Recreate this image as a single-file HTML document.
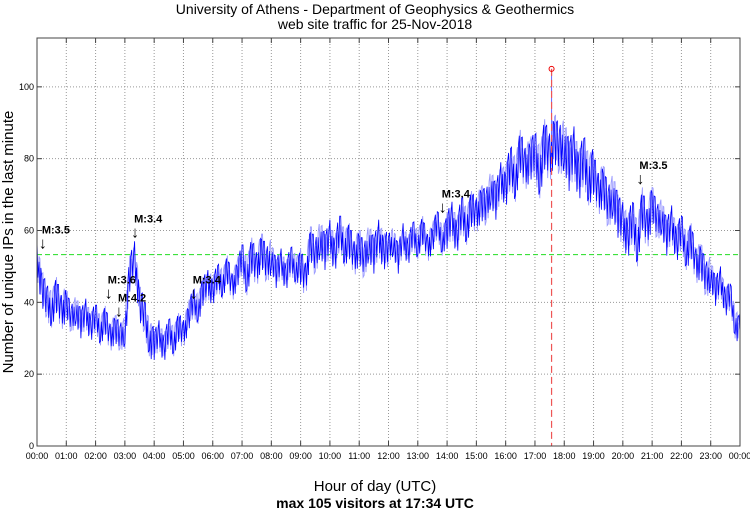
<!DOCTYPE html>
<html><head><meta charset="utf-8"><style>
html,body{margin:0;padding:0;background:#fff}
svg{display:block;font-family:"Liberation Sans",sans-serif}
</style></head><body>
<svg id="chart" width="750" height="511">
<text x="375" y="14" text-anchor="middle" font-size="14">University of Athens - Department of Geophysics &amp; Geothermics</text>
<text x="375" y="29" text-anchor="middle" font-size="14">web site traffic for 25-Nov-2018</text>
<g id="grid"></g>
<g id="series"></g>
<g id="annots"></g>
<rect x="37" y="38" width="703" height="408" fill="none" stroke="#444" stroke-width="1"/>
<g id="axes"></g>
<text x="375" y="491" text-anchor="middle" font-size="15">Hour of day (UTC)</text>
<text x="375" y="508" text-anchor="middle" font-size="14" font-weight="bold">max 105 visitors at 17:34 UTC</text>
<text transform="translate(13,242) rotate(-90)" text-anchor="middle" font-size="15">Number of unique IPs in the last minute</text>
</svg>
<script>
const values = [
52,44,40,38,42,37, 40,35,38,34,37,33, 36,32,35,30,33,30, 32,48,52,40,36,30,
28,31,27,32,29,33, 31,36,40,38,43,45, 43,47,45,49,44,48, 52,47,53,49,55,50,
53,48,51,47,52,49, 50,46,57,52,58,54, 58,53,60,55,57,52, 56,51,57,53,58,54,
55,57,52,58,54,59, 56,60,55,58,62,57, 60,63,58,65,61,66, 64,68,66,72,68,74,
72,78,74,82,77,80, 81,76,84,80,86,82, 84,78,82,75,80,74, 76,70,73,66,70,64,
62,58,63,56,66,60, 68,62,64,58,62,56, 60,54,57,50,52,46, 48,43,46,40,42,34, 32];
const noiseSpread = [5,4,4,5,4,4,4,5,4,5,5,5,4,4,5,5,6,7,7,6,6,5,5,4];
const stepMinutes = 10;
const peakHour = [17.567];
const peakValue = [105];
const averageValue = [53.3];
const yTicks = [0,20,40,60,80,100];
const xTicks = ["00:00","01:00","02:00","03:00","04:00","05:00","06:00","07:00","08:00","09:00","10:00","11:00","12:00","13:00","14:00","15:00","16:00","17:00","18:00","19:00","20:00","21:00","22:00","23:00","00:00"];
const quakeLabels = ["M:3.5","M:3.6","M:4.2","M:3.4","M:3.4","M:3.4","M:3.5"];
const quakeHours = [0.2,2.45,2.8,3.35,5.35,13.85,20.6];
const quakeLevels = [55,41,36,58,41,65,73];

const X0=37,X1=740,Y0=446,Y1=38,YMAX=113.6;
const sx=h=>X0+h/24*(X1-X0);
const sy=v=>Y0-v/YMAX*(Y0-Y1);
const NS="http://www.w3.org/2000/svg";
function mk(tag,attrs,parent){const e=document.createElementNS(NS,tag);for(const k in attrs)e.setAttribute(k,attrs[k]);parent.appendChild(e);return e;}
const grid=document.getElementById('grid'),axes=document.getElementById('axes'),series=document.getElementById('series'),ann=document.getElementById('annots');

xTicks.forEach((t,i)=>{
  const x=sx(i);
  if(i>0&&i<24){const g=mk('line',{x1:x,x2:x,y1:Y1,y2:Y0,stroke:'#999','stroke-dasharray':'1,2'},grid);
  
  }
  mk('line',{x1:x,x2:x,y1:Y0,y2:Y0-5,stroke:'#444'},axes);
  mk('line',{x1:x,x2:x,y1:Y1,y2:Y1+5,stroke:'#444'},axes);
  const tx=mk('text',{x:x,y:Y0+13,'text-anchor':'middle','font-size':'9'},axes);
  tx.textContent=t;
  
  
});
yTicks.forEach(v=>{
  const y=sy(v);
  if(v>0){const g=mk('line',{x1:X0,x2:X1,y1:y,y2:y,stroke:'#999','stroke-dasharray':'1,2'},grid);
  
  }
  mk('line',{x1:X0,x2:X0+5,y1:y,y2:y,stroke:'#444'},axes);
  mk('line',{x1:X1,x2:X1-5,y1:y,y2:y,stroke:'#444'},axes);
  const tx=mk('text',{x:X0-3,y:y+3,'text-anchor':'end','font-size':'9'},axes);
  tx.textContent=v;
  
  
});

const av=mk('line',{x1:X0,x2:X1,y1:sy(averageValue[0]),y2:sy(averageValue[0]),stroke:'#22dd22','stroke-dasharray':'5,3'},series);



const sub=[1,-0.7,0.5,-1,0.8];
const SUBN=5;
function jitterPath(phase){
  const p=[];
  for(let i=0;i<values.length-1;i++){
    for(let k=0;k<SUBN;k++){
      const h=(i*stepMinutes+k*stepMinutes/SUBN)/60;
      const base=values[i]+(values[i+1]-values[i])*k/SUBN;
      const s=noiseSpread[Math.min(23,Math.floor(h))];
      const v=base+s*sub[(k+phase+i*2)%SUBN];
      p.push([sx(h),sy(v)]);
    }
  }
  p.push([sx((values.length-1)*stepMinutes/60),sy(values[values.length-1])]);
  return p;
}
function toD(pts){return pts.map((p,i)=>(i?'L':'M')+p[0].toFixed(1)+','+p[1].toFixed(1)).join('');}
const bg=mk('path',{d:toD(jitterPath(2)),fill:'none',stroke:'#9a9aff','stroke-width':0.9},series);


const ln=mk('path',{d:toD(jitterPath(0)),fill:'none',stroke:'#0000ff','stroke-width':0.8},series);



const pk=[sx(peakHour[0]),sy(peakValue[0])];
const ps=mk('line',{x1:pk[0],x2:pk[0],y1:pk[1],y2:sy(86),stroke:'#6666ff'},series);


const pl=mk('line',{x1:pk[0],x2:pk[0],y1:pk[1],y2:Y0,stroke:'#ee5555','stroke-dasharray':'7,4','stroke-width':1.2},series);


const pc=mk('circle',{cx:pk[0],cy:pk[1],r:2.5,fill:'none',stroke:'#ee0000'},series);



quakeLabels.forEach((l,i)=>{
  const x=sx(quakeHours[i]),y=sy(quakeLevels[i]);
  const a=mk('text',{x:x,y:y,'text-anchor':'middle','font-size':'16'},ann);
  a.textContent='↓';
  
  
  const t=mk('text',{x:x-1,y:y-15,'font-size':'11','font-weight':'bold'},ann);
  t.textContent=l;
  
  
});
</script>
</body></html>
